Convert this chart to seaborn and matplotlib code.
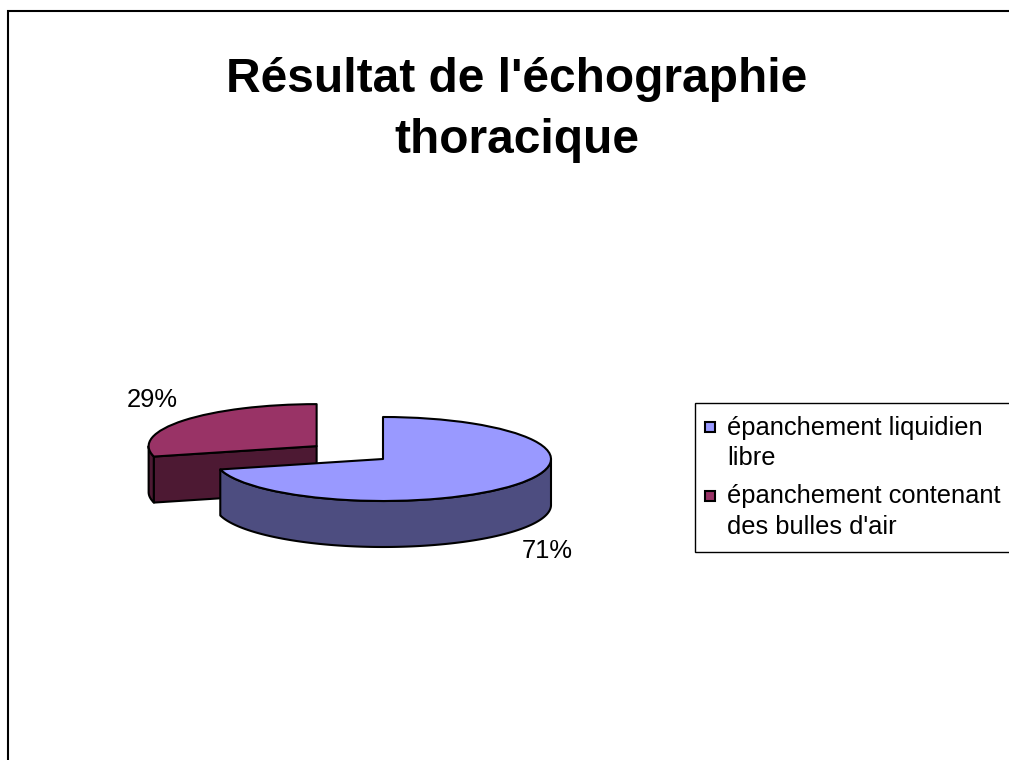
import numpy as np
import matplotlib
matplotlib.use('Agg')
import matplotlib.pyplot as plt
from matplotlib.patches import Polygon, Rectangle, Wedge
from matplotlib.legend_handler import HandlerPatch
import seaborn as sns

# Data
categories = ["épanchement liquidien\nlibre", "épanchement contenant\ndes bulles d'air"]
values = [71, 29]
pct_labels = ["71%", "29%"]
explode = [0, 0.5]
top_colors = ['#9999FF', '#993366']
side_colors = ['#4D4D80', '#4D1933']

sns.set_theme(style='white')
plt.rcParams['font.family'] = ['Liberation Sans', 'DejaVu Sans']
plt.rcParams['text.color'] = 'black'

W, H, DPI = 1009, 760, 100
K = 0.25          # vertical squash of the pie (3D tilt)
R = 168           # pie radius
D = 46 / K        # pie thickness
cx, cy = 383, (H - 459) / K
FS = 18.4

fig = plt.figure(figsize=(W / DPI, H / DPI), dpi=DPI)
fig.patch.set_facecolor('white')
ax = fig.add_axes([0, 0, 1, 1])

edge = dict(edgecolor='black', linewidth=1.5, joinstyle='round')
wedges, _ = ax.pie(values, explode=[e * R for e in explode], colors=top_colors,
                   startangle=90, counterclock=False, radius=R, center=(cx, cy),
                   wedgeprops=edge)
ax.set_aspect('auto')
ax.set_xlim(0, W)
ax.set_ylim(0, H / K)
ax.axis('off')

# draw sides, back slices first
order = sorted(range(len(wedges)), key=lambda i: -wedges[i].center[1])
z = 1
for i in order:
    w = wedges[i]
    x0, y0 = w.center
    t1, t2 = w.theta1, w.theta2
    a = np.radians(np.linspace(t1, t2, 400))
    front = a[np.sin(a) <= 1e-9]
    if len(front):
        xs = x0 + R * np.cos(front)
        ys = y0 + R * np.sin(front)
        pts = np.column_stack([np.r_[xs, xs[::-1]], np.r_[ys, ys[::-1] - D]])
        ax.add_patch(Polygon(pts, closed=True, facecolor=side_colors[i], zorder=z, **edge))
    # cut faces
    for t, visible in ((t1, np.cos(np.radians(t1)) > 1e-6), (t2, np.cos(np.radians(t2)) < -1e-6)):
        if visible:
            ex, ey = x0 + R * np.cos(np.radians(t)), y0 + R * np.sin(np.radians(t))
            pts = [(x0, y0), (ex, ey), (ex, ey - D), (x0, y0 - D)]
            ax.add_patch(Polygon(pts, closed=True, facecolor=side_colors[i], zorder=z, **edge))
    w.set_zorder(z + 1)
    # percentage label
    mid = np.radians((t1 + t2) / 2)
    lx = x0 + 1.24 * R * np.cos(mid)
    ly = y0 + 1.78 * R * np.sin(mid) - (D if np.sin(mid) < 0 else 0)
    ax.text(lx, ly, pct_labels[i], ha='center', va='center', fontsize=FS,
            color='black', zorder=10)
    z += 2

# title
fig.text(517 / W, 1 - 57 / H, "Résultat de l'échographie\nthoracique", ha='center', va='top',
         fontsize=34.5, fontweight='bold', linespacing=1.45, color='black')


# legend with squares aligned to first text line
def square(legend, orig_handle, xdescent, ydescent, width, height, fontsize):
    s = 0.39 * fontsize
    return Rectangle((-xdescent + (width - s) / 2, -ydescent + (height - s) / 2 + 0.65 * fontsize), s, s)


leg = fig.legend(handles=wedges, labels=categories, loc='upper left',
                 bbox_to_anchor=(695 / W, 1 - 403 / H), borderaxespad=0,
                 frameon=True, fancybox=False, edgecolor='black', framealpha=1,
                 fontsize=FS, handlelength=0.15, handletextpad=0.62,
                 labelspacing=0.55, borderpad=0.5,
                 handler_map={Wedge: HandlerPatch(patch_func=square)})
for t in leg.get_texts():
    t.set_linespacing(1.35)
    t.set_color('black')
leg.get_frame().set_linewidth(1.0)

# outer chart border
fig.add_artist(Rectangle((8 / W, -0.5), 2, 1.5 - 11 / H, transform=fig.transFigure,
                         fill=False, edgecolor='black', linewidth=1.5))

fig.savefig('out.png', dpi=DPI)
